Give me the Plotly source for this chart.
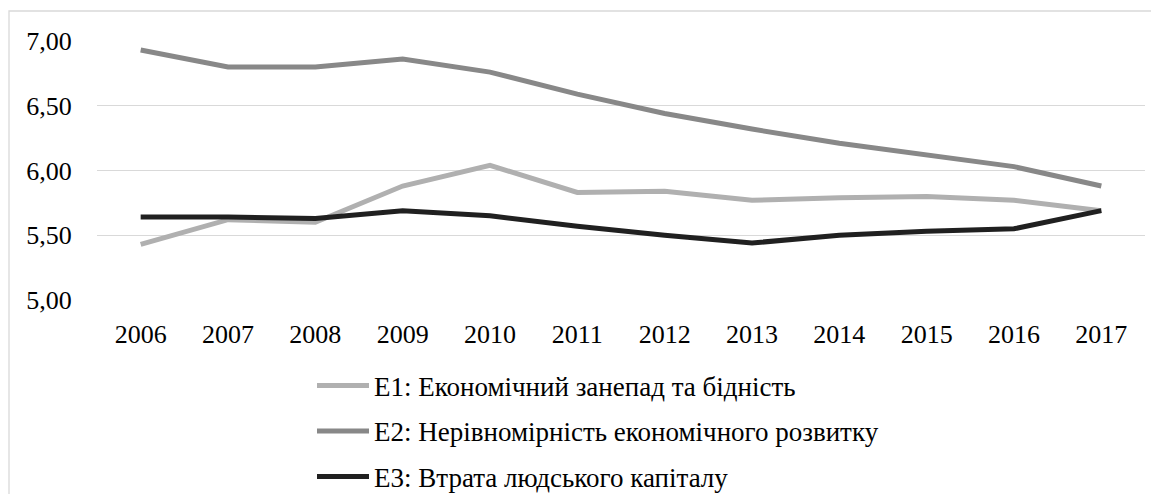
import plotly.graph_objects as go

years = ["2006", "2007", "2008", "2009", "2010", "2011", "2012", "2013", "2014", "2015", "2016", "2017"]
e1 = [5.43, 5.62, 5.60, 5.88, 6.04, 5.83, 5.84, 5.77, 5.79, 5.80, 5.77, 5.69]
e2 = [6.93, 6.80, 6.80, 6.86, 6.76, 6.59, 6.44, 6.32, 6.21, 6.12, 6.03, 5.88]
e3 = [5.64, 5.64, 5.63, 5.69, 5.65, 5.57, 5.50, 5.44, 5.50, 5.53, 5.55, 5.69]
names = ["E1: Економічний занепад та бідність",
         "E2: Нерівномірність економічного розвитку",
         "E3: Втрата людського капіталу"]
colors = ["#b0b0b0", "#888888", "#202020"]

FONT = "Liberation Serif"

# page body keeps an 8px margin, so the figure is sized to fit inside it
W, H = 1143, 486
L, R, T, B = 89, 6, 33, 194
PW, PH = W - L - R, H - T - B


def xp(px):
    return (px - L) / PW


def yp(py):
    return 1 - (py - T) / PH


fig = go.Figure()
for vals, nm, col in zip([e1, e2, e3], names, colors):
    fig.add_trace(go.Scatter(x=years, y=vals, mode="lines", name=nm,
                             showlegend=False,
                             line=dict(color=col, width=5)))

fig.update_layout(
    width=W, height=H,
    margin=dict(l=L, r=R, t=T, b=B, autoexpand=False),
    paper_bgcolor="white", plot_bgcolor="white",
    font=dict(family=FONT, size=26, color="#000000"),
    xaxis=dict(type="category", range=[-0.5, 11.5], showgrid=False,
               showline=False, zeroline=False,
               ticks="outside", ticklen=11, tickcolor="rgba(0,0,0,0)",
               tickfont=dict(size=26, family=FONT)),
    yaxis=dict(range=[5, 7], dtick=0.5, tickformat=".2f",
               showgrid=True, gridcolor="#d9d9d9", gridwidth=1.2,
               zeroline=False, showline=False,
               ticks="outside", ticklen=19, tickcolor="rgba(0,0,0,0)",
               tickfont=dict(size=26, family=FONT)),
    separators=", ",
)

# outer chart border
fig.add_shape(type="rect", xref="paper", yref="paper",
              x0=xp(1), x1=xp(W + 20), y0=yp(H + 20), y1=yp(3),
              line=dict(color="#d9d9d9", width=1.3), fillcolor="rgba(0,0,0,0)",
              layer="below")

# legend (drawn manually to match the long legend keys)
row_y = [377.5, 423, 468.5]
for nm, col, ry in zip(names, colors, row_y):
    fig.add_shape(type="line", xref="paper", yref="paper",
                  x0=xp(309), x1=xp(361), y0=yp(ry), y1=yp(ry),
                  line=dict(color=col, width=5))
    fig.add_annotation(xref="paper", yref="paper", x=xp(364), y=yp(ry + 1),
                       text=nm, showarrow=False, xanchor="left", yanchor="middle",
                       font=dict(size=27, family=FONT, color="#000000"))

fig.write_html("out.html")
